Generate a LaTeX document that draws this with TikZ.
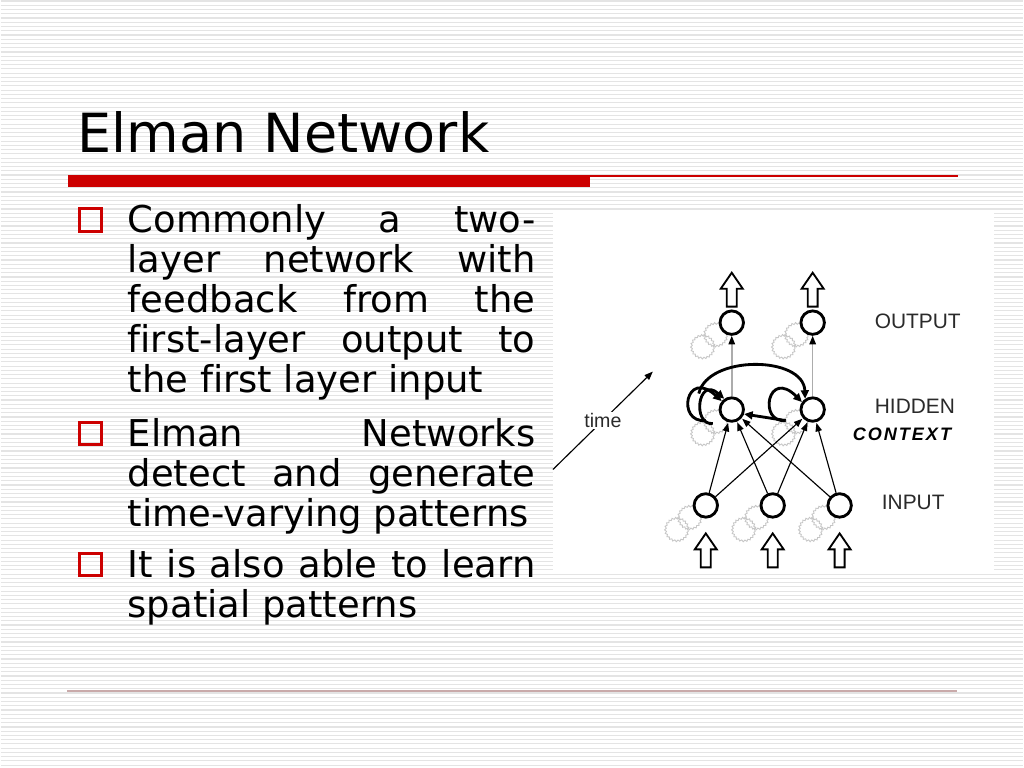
\documentclass[tikz,border=0pt]{standalone}
\usepackage{fontspec}
\setmainfont{DejaVu Sans}[Ligatures=CommonOff]
\newfontfamily\labelfont{Liberation Sans}
\newfontfamily\ctxfont[LetterSpace=11]{Liberation Sans}
\usetikzlibrary{arrows.meta,decorations.pathmorphing}
\definecolor{slidered}{HTML}{CC0000}
\definecolor{stripe}{HTML}{E4E4E4}
\definecolor{footline}{HTML}{C9AAAA}
\definecolor{labelgray}{HTML}{2A2A2A}

\begin{document}
\begin{tikzpicture}[x=0.703125pt,y=-0.703125pt,
        bullet/.style={draw=slidered,line width=2.1pt,minimum size=16pt,inner sep=0pt},
        bodytext/.style={anchor=base west,inner sep=0pt,text width=287pt,align=justify,
            font=\fontsize{26}{28.1}\selectfont,
            execute at begin node={\tolerance=10000\relax\hbadness=10000\relax}},
        neuron/.style={circle,draw,fill=white,line width=2pt,minimum size=16.5pt,inner sep=0pt},
        ghost/.style={circle,draw=gray!45,line width=0.6pt,minimum size=16pt,inner sep=0pt,
            decorate,decoration={snake,amplitude=0.6pt,segment length=2.4pt}},
        hollow/.style={draw,fill=white,line width=1.3pt,line join=miter},
        feed/.style={line width=0.8pt,-{Triangle[length=6pt,width=4.5pt]},shorten >=0.5pt},
        upline/.style={gray!65,line width=1.1pt,-{Triangle[length=6pt,width=4.5pt,color=black]}},
        recur/.style={line width=2pt,-{Triangle[length=6pt,width=5.5pt]}},
        layerlabel/.style={anchor=west,inner sep=0pt,text=labelgray,font=\labelfont\fontsize{14.7}{16}\selectfont}]

    % background stripes
    \fill[white] (0,0) rectangle (1024,768);
    \foreach \y in {1,5.25,...,768}
        \draw[stripe,line width=0.8pt] (0,\y) -- (1024,\y);
    \useasboundingbox (0,0) rectangle (1024,768);

    % title and rules
    \node[anchor=base west,inner sep=0pt,font=\fontsize{38}{44}\selectfont] (title) at (77,153) {Elman Network};
    \fill[slidered] (68,175) rectangle (590,187);
    \draw[slidered,line width=1.4pt] (590,176) -- (958,176);
    \draw[footline,line width=1.1pt] (67,692) -- (957,692);

    % bullets
    \node[bullet] (m1) at (90,220) {};
    \node[bullet] (m2) at (90,434) {};
    \node[bullet] (m3) at (90,565) {};
    \node[bodytext] (b1) at (127,233) {Commonly a two-\linebreak layer network with\linebreak
        feedback from the\linebreak first-layer output to\linebreak the first layer input};
    \node[bodytext] (b2) at (127,447) {Elman Networks\linebreak detect and generate\linebreak
        time-varying patterns};
    \node[bodytext] (b3) at (127,578) {It is also able to learn\linebreak spatial patterns};

    % network picture
    \fill[white] (553,213) rectangle (995,572);
    \foreach \name/\x/\y in {o1/732/323,o2/813/323,h1/732/410,h2/813/410,
                             i1/706/506,i2/773/506,i3/840/506} {
        \node[ghost] at (\x-29,\y+25) {};
        \node[ghost] at (\x-16,\y+13) {};
        \node[neuron] (\name) at (\x,\y) {};
    }

    % hollow in/out arrows
    \foreach \x/\yb in {732/307,813/307,706/568,773/568,840/568}
        \draw[hollow] (\x-5,\yb) -- (\x-5,\yb-18) -- (\x-11,\yb-18) -- (\x,\yb-34)
            -- (\x+11,\yb-18) -- (\x+5,\yb-18) -- (\x+5,\yb) -- cycle;

    % input to hidden
    \foreach \i in {i1,i2,i3}
        \foreach \h in {h1,h2}
            \draw[feed] (\i) -- (\h);

    % hidden to output
    \draw[upline] (h1) -- (o1);
    \draw[upline] (h2) -- (o2);

    % context feedback
    \coordinate (c1) at (706,421);
    \coordinate (c1b) at (713,424);
    \coordinate (c2) at (786,421);
    \coordinate (arcstart) at (699,394);
    \draw[recur] (c1) .. controls (676,424) and (686,368) .. (h1.140);
    \draw[recur] (c1b) .. controls (692,426) and (698,376) .. (h1.125);
    \draw[recur] (arcstart) .. controls (708,355) and (804,356) .. (h2.125);
    \draw[recur] (c2) .. controls (758,424) and (768,368) .. (h2.145);
    \draw[recur] (c2) -- (h1.-20);

    % labels
    \node[layerlabel] (lout) at (875,322) {OUTPUT};
    \node[layerlabel] (lhid) at (875,407) {HIDDEN};
    \node[layerlabel,font=\ctxfont\bfseries\itshape\fontsize{12.7}{14}\selectfont,text=black] (lctx) at (853,435) {CONTEXT};
    \node[layerlabel] (lin) at (882,503) {INPUT};

    % time axis
    \coordinate (t0) at (553,470);
    \coordinate (t1) at (653,372);
    \draw[line width=0.8pt,-{Triangle[length=6pt,width=4.5pt]}] (t0) -- node[fill=white,inner sep=1pt,text=labelgray,font=\labelfont\fontsize{13.8}{15}\selectfont] (tlab) {time} (t1);
\end{tikzpicture}
\end{document}
